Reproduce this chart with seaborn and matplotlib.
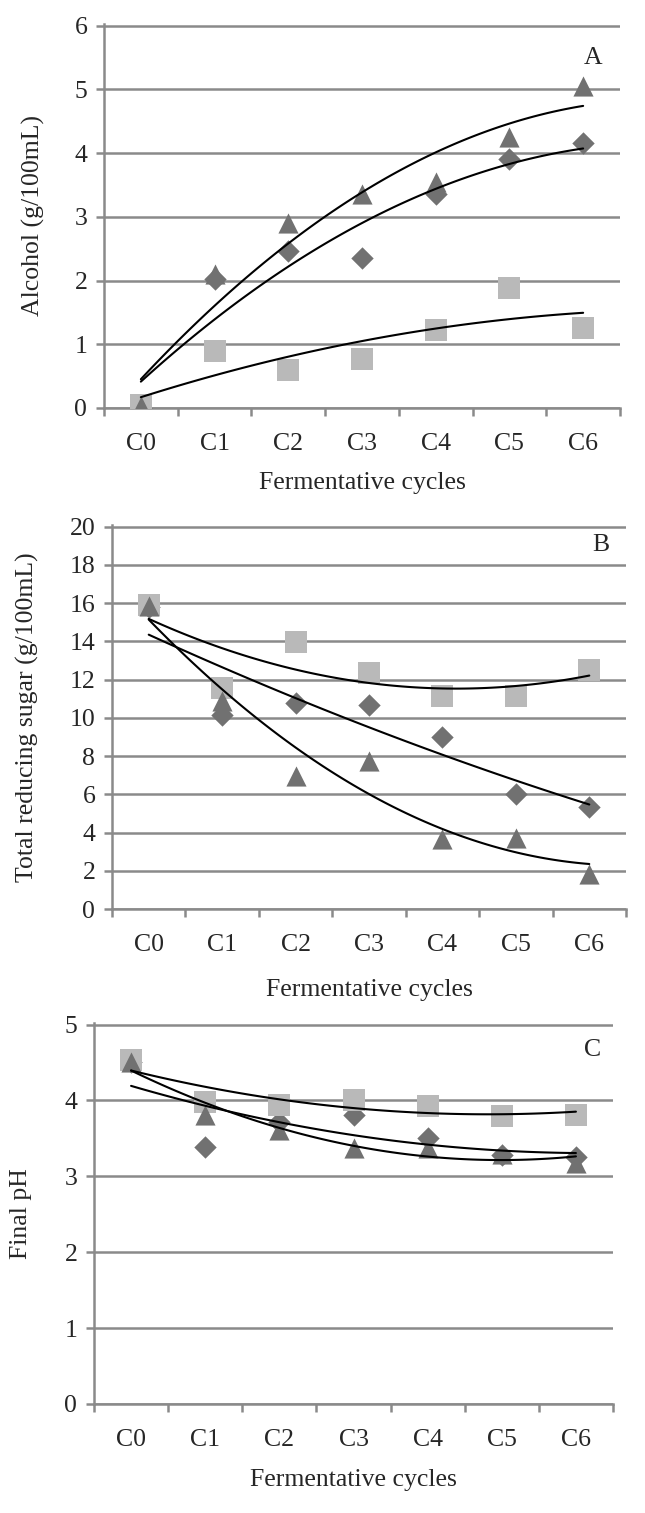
import numpy as np
import seaborn as sns
import matplotlib.pyplot as plt
from matplotlib.ticker import FixedLocator, NullFormatter

# categories on the x axis
cycles = ['C0', 'C1', 'C2', 'C3', 'C4', 'C5', 'C6']

# panel A - alcohol (g/100mL)
alcohol_diamond = [0.0, 2.03, 2.47, 2.36, 3.35, 3.90, 4.15]
alcohol_square = [0.05, 0.90, 0.60, 0.77, 1.22, 1.88, 1.25]
alcohol_triangle = [0.03, 2.10, 2.90, 3.35, 3.55, 4.25, 5.05]

# panel B - total reducing sugar (g/100mL)
sugar_diamond = [15.8, 10.17, 10.78, 10.66, 8.99, 6.03, 5.34]
sugar_square = [15.9, 11.57, 13.95, 12.35, 11.13, 11.13, 12.52]
sugar_triangle = [15.83, 10.87, 6.96, 7.74, 3.65, 3.70, 1.83]

# panel C - final pH
ph_diamond = [4.50, 3.38, 3.71, 3.81, 3.50, 3.28, 3.26]
ph_square = [4.53, 3.98, 3.94, 4.00, 3.93, 3.80, 3.81]
ph_triangle = [4.51, 3.81, 3.61, 3.37, 3.37, 3.30, 3.17]

sns.set_style('white')
plt.rcParams['font.family'] = ['Liberation Serif', 'DejaVu Serif']

grid_c = '#8a8a8a'
dark = '#717171'
light = '#b9b9b9'
fs = 18.5

W, H = 645, 1513
fig = plt.figure(figsize=(W / 100, H / 100), dpi=100)


def draw_panel(box, series, ymax, step, ylabel, letter, letter_xy, ylabel_x, xlabel_y):
    # box is (left, top, right, bottom) in pixels
    l, t, r, b = box
    ax = fig.add_axes([l / W, (H - b) / H, (r - l) / W, (b - t) / H])
    x = np.arange(len(cycles))

    # markers: diamond, square, triangle
    for vals, mk, size, col in zip(series, ['D', 's', '^'], [130, 230, 210], [dark, light, dark]):
        sns.scatterplot(x=x, y=np.array(vals), marker=mk, s=size, color=col,
                        linewidth=0, ax=ax, zorder=3)

    # polynomial (order 2) trend lines
    for vals in series:
        sns.regplot(x=x, y=np.array(vals), order=2, ci=None, scatter=False, ax=ax,
                    line_kws=dict(color='black', lw=1.5, zorder=4))

    ax.set_xlim(-0.5, 6.5)
    ax.set_ylim(0, ymax * 1.004)
    ax.set_yticks(np.arange(0, ymax + step / 2, step))
    ax.yaxis.grid(True, color=grid_c, lw=1.8)
    ax.xaxis.grid(False)
    ax.set_axisbelow(True)

    # ticks between categories, labels in the middle
    ax.xaxis.set_major_locator(FixedLocator(np.arange(-0.5, 7, 1)))
    ax.xaxis.set_major_formatter(NullFormatter())
    ax.xaxis.set_minor_locator(FixedLocator(x))
    ax.set_xticklabels(cycles, minor=True)
    ax.tick_params(axis='x', which='major', bottom=True, length=6, width=1.8,
                   color=grid_c, direction='out')
    ax.tick_params(axis='x', which='minor', bottom=True, length=0, pad=18, labelsize=fs)
    ax.tick_params(axis='y', left=True, length=6, width=1.8, color=grid_c,
                   direction='out', pad=6, labelsize=fs)

    for s in ['top', 'right']:
        ax.spines[s].set_visible(False)
    for s in ['left', 'bottom']:
        ax.spines[s].set_color(grid_c)
        ax.spines[s].set_linewidth(1.8)

    ax.set_ylabel(ylabel, fontsize=fs, va='center')
    ax.yaxis.set_label_coords((ylabel_x - l) / (r - l), 0.5)
    ax.set_xlabel('Fermentative cycles', fontsize=fs, va='center')
    ax.xaxis.set_label_coords(0.5, (b - xlabel_y) / (b - t))

    ax.text((letter_xy[0] - l) / (r - l), (b - letter_xy[1]) / (b - t), letter,
            transform=ax.transAxes, ha='center', va='center', fontsize=fs)
    return ax


draw_panel((104, 24, 620, 408), [alcohol_diamond, alcohol_square, alcohol_triangle],
           6, 1, 'Alcohol (g/100mL)', 'A', (593, 58), 33, 483)
draw_panel((112, 525, 626, 909), [sugar_diamond, sugar_square, sugar_triangle],
           20, 2, 'Total reducing sugar (g/100mL)', 'B', (601, 545), 27, 990)
draw_panel((94, 1023, 613, 1404), [ph_diamond, ph_square, ph_triangle],
           5, 1, 'Final pH', 'C', (593, 1050), 21, 1480)

plt.savefig('out.png', dpi=100)
